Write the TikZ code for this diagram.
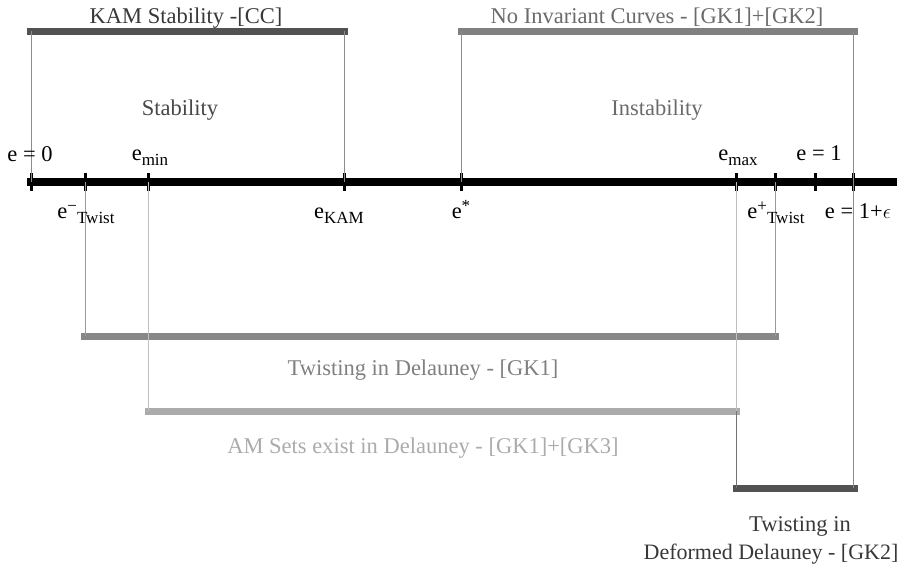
\documentclass[tikz,border=0pt]{standalone}
\usepackage{fontspec}
\setmainfont{Liberation Serif}
\newcommand{\subtxt}[1]{\raisebox{-5pt}{\fontsize{17}{20}\selectfont #1}}
\newcommand{\suptxt}[1]{\raisebox{7pt}{\fontsize{17}{20}\selectfont #1}}
\begin{document}
\begin{tikzpicture}[x=1pt,y=-1pt,
  lbl/.style={font=\fontsize{22.5}{27}\selectfont, inner sep=0pt, anchor=base},
  bar/.style={line width=7pt},
  thin/.style={line width=1pt},
  tick/.style={line width=3pt, black}]
\useasboundingbox (0,0) rectangle (903,565);
% axis
\coordinate (axL) at (27,182); \coordinate (axR) at (897,182);
\draw[line width=8pt, black] (axL) -- (axR);
% ticks
\foreach \n/\x in {t0/31,tm/85,tmin/148,tkam/344,tst/461,tmax/736,tp/775,tone/815,teps/853}{
  \coordinate (\n) at (\x,182);
  \draw[tick] (\x,173) -- (\x,191);
}
% bars
\coordinate (kamL) at (27,31); \coordinate (kamR) at (348,31);
\draw[bar, color=black!68] (kamL) -- (kamR);
\coordinate (nicL) at (458,31); \coordinate (nicR) at (858,31);
\draw[bar, color=black!50] (nicL) -- (nicR);
\coordinate (twL) at (81,336); \coordinate (twR) at (779,336);
\draw[bar, color=black!47] (twL) -- (twR);
\coordinate (amL) at (145,411); \coordinate (amR) at (740,411);
\draw[bar, color=black!33] (amL) -- (amR);
\coordinate (dfL) at (733,488); \coordinate (dfR) at (858,488);
\draw[bar, color=black!68] (dfL) -- (dfR);
% verticals
\coordinate (v1t) at (31,31); \coordinate (v2t) at (344,31);
\coordinate (v3t) at (461,31); \coordinate (v4t) at (853,31);
\draw[thin, black!45] (v1t) -- (t0);
\draw[thin, black!45] (v2t) -- (tkam);
\draw[thin, black!45] (v3t) -- (tst);
\coordinate (v4b) at (853,488);
\draw[thin, black!45] (v4t) -- (v4b);
\coordinate (v5b) at (85,336); \coordinate (v6b) at (775,336);
\draw[thin, black!40] (tm) -- (v5b);
\draw[thin, black!40] (tp) -- (v6b);
\coordinate (v7b) at (148,411); \coordinate (v8b) at (736,411);
\draw[thin, black!25] (tmin) -- (v7b);
\draw[thin, black!25] (tmax) -- (v8b);
\coordinate (v9b) at (736,488);
\draw[thin, black!55] (v8b) -- (v9b);
% labels
\node[lbl, text=black!78] (lkam) at (186,23) {KAM Stability -[CC]};
\node[lbl, text=black!58] (lnic) at (657,23) {No Invariant Curves - [GK1]+[GK2]};
\node[lbl, text=black!72] (lstab) at (180,115) {Stability};
\node[lbl, text=black!58] (linst) at (657,115) {Instability};
\node[lbl] (le0) at (30,161) {e = 0};
\node[lbl] (lemin) at (150,160) {e\subtxt{min}};
\node[lbl] (lemax) at (738,160) {e\subtxt{max}};
\node[lbl] (le1) at (819,160) {e = 1};
\node[lbl] (ltm) at (86,218) {e\suptxt{−}\subtxt{Twist}};
\node[lbl] (lkamb) at (339,218) {e\subtxt{KAM}};
\node[lbl] (lstar) at (461,218) {e\suptxt{*}};
\node[lbl] (ltp) at (776,218) {e\suptxt{+}\subtxt{Twist}};
\node[lbl] (leps) at (858,218) {e = 1+$\epsilon$};
\node[lbl, text=black!50] (ltw) at (423,375) {Twisting in Delauney - [GK1]};
\node[lbl, text=black!33] (lam) at (423,453) {AM Sets exist in Delauney - [GK1]+[GK3]};
\node[lbl, text=black!78] (ldf1) at (800,531) {Twisting in};
\node[lbl, text=black!78, font=\fontsize{22}{27}\selectfont] (ldf2) at (771,559) {Deformed Delauney - [GK2]};
\end{tikzpicture}
\end{document}
